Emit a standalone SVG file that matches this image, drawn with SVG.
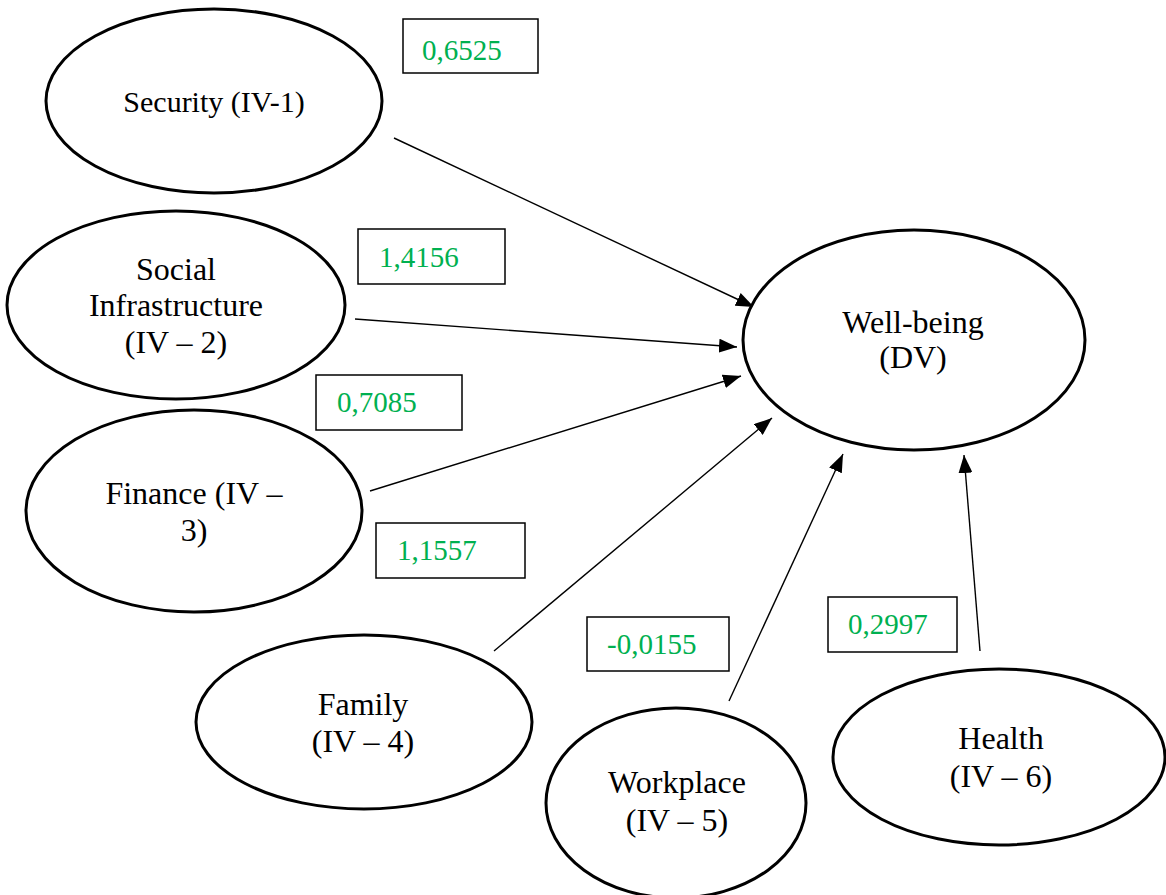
<svg xmlns="http://www.w3.org/2000/svg" width="1166" height="895" viewBox="0 0 1166 895">
<defs>
<marker id="arr" markerUnits="userSpaceOnUse" markerWidth="18" markerHeight="14" refX="18" refY="7" orient="auto">
<path d="M0,0 L18,7 L0,14 z" fill="#000"/>
</marker>
<style>
.node ellipse{fill:#fff;stroke:#000;stroke-width:3}
.node text{font-family:"Liberation Serif","Times New Roman",serif;font-size:32px;fill:#000;text-anchor:middle}
.lbl rect{fill:#fff;stroke:#000;stroke-width:1.5}
.lbl text{font-family:"Liberation Serif","Times New Roman",serif;font-size:29px;fill:#00B050}
.conn line{stroke:#000;stroke-width:1.4;marker-end:url(#arr)}
</style>
</defs>
<rect width="1166" height="895" fill="#fff"/>
<g id="connectors" class="conn">
<line x1="394" y1="138" x2="754" y2="307"/>
<line x1="355" y1="319" x2="737" y2="347"/>
<line x1="370" y1="491" x2="741" y2="376"/>
<line x1="494" y1="651" x2="772" y2="418"/>
<line x1="729" y1="701" x2="843" y2="454"/>
<line x1="980" y1="651" x2="964" y2="455"/>
</g>
<g id="security" class="node">
<ellipse cx="214" cy="101" rx="168" ry="92"/>
<text x="214" y="112" style="font-size:30px">Security (IV-1)</text>
</g>
<g id="social" class="node">
<ellipse cx="176" cy="305" rx="169" ry="94"/>
<text x="176" y="280">Social</text>
<text x="176" y="316">Infrastructure</text>
<text x="176" y="353">(IV – 2)</text>
</g>
<g id="finance" class="node">
<ellipse cx="194" cy="511" rx="168" ry="101"/>
<text x="194" y="504">Finance (IV –</text>
<text x="194" y="541">3)</text>
</g>
<g id="family" class="node">
<ellipse cx="364" cy="722" rx="168" ry="87"/>
<text x="363" y="715">Family</text>
<text x="363" y="752">(IV – 4)</text>
</g>
<g id="workplace" class="node">
<ellipse cx="676" cy="803" rx="130" ry="95"/>
<text x="677" y="793">Workplace</text>
<text x="677" y="831">(IV – 5)</text>
</g>
<g id="health" class="node">
<ellipse cx="999" cy="757" rx="166" ry="88"/>
<text x="1001" y="749">Health</text>
<text x="1001" y="787">(IV – 6)</text>
</g>
<g id="wellbeing" class="node">
<ellipse cx="914" cy="340" rx="171" ry="110"/>
<text x="913" y="333">Well-being</text>
<text x="913" y="368">(DV)</text>
</g>
<g id="label-security" class="lbl">
<rect x="403" y="19" width="135" height="54"/>
<text x="422" y="60">0,6525</text>
</g>
<g id="label-social" class="lbl">
<rect x="358" y="229" width="147" height="55"/>
<text x="379" y="267">1,4156</text>
</g>
<g id="label-finance" class="lbl">
<rect x="316" y="375" width="146" height="55"/>
<text x="337" y="412">0,7085</text>
</g>
<g id="label-family" class="lbl">
<rect x="376" y="523" width="149" height="55"/>
<text x="397" y="560">1,1557</text>
</g>
<g id="label-workplace" class="lbl">
<rect x="587" y="617" width="142" height="54"/>
<text x="607" y="654">-0,0155</text>
</g>
<g id="label-health" class="lbl">
<rect x="828" y="597" width="129" height="55"/>
<text x="848" y="634">0,2997</text>
</g>
</svg>
